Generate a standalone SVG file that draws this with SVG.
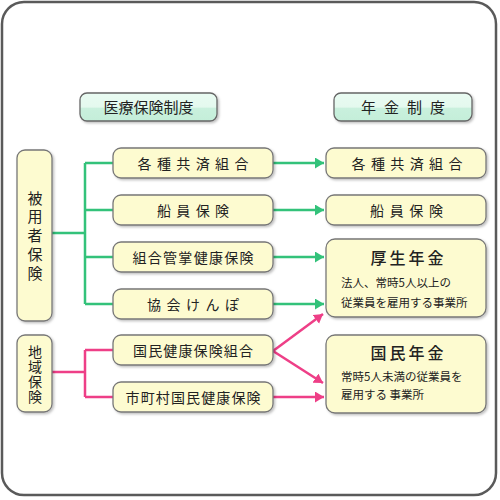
<svg xmlns="http://www.w3.org/2000/svg" width="500" height="500" viewBox="0 0 500 500">
<defs>
<style>
text{font-family:"Noto Sans CJK JP","Noto Sans CJK SC",sans-serif;fill:#222;}
.box{fill:#fdfbd0;stroke:#777;stroke-width:1.3;filter:url(#sh);}
.hdr{fill:url(#hg);stroke:#666;stroke-width:1.3;filter:url(#sh);}
.t{font-size:14px;text-anchor:middle;}
.vt{writing-mode:vertical-rl;text-orientation:upright;text-anchor:middle;}
.ht{font-size:15px;text-anchor:middle;}
.big{font-size:16px;text-anchor:middle;font-weight:500;}
.sub{font-size:11.5px;}
.g{fill:none;stroke:#33c27a;stroke-width:2.5;}
.p{fill:none;stroke:#ee3f87;stroke-width:2.5;}
</style>
<linearGradient id="hg" x1="0" y1="0" x2="0" y2="1">
<stop offset="0" stop-color="#e9fbf2"/>
<stop offset="0.5" stop-color="#e4f9ee"/>
<stop offset="0.55" stop-color="#c9f0dd"/>
<stop offset="1" stop-color="#c4eed9"/>
</linearGradient>
<filter id="sh" x="-10%" y="-20%" width="130%" height="150%">
<feDropShadow dx="1.5" dy="1.5" stdDeviation="1" flood-color="#000" flood-opacity="0.25"/>
</filter>
<marker id="ag" markerUnits="userSpaceOnUse" markerWidth="10" markerHeight="12" refX="9" refY="5.5" orient="auto">
<path d="M0,0 L9,5.5 L0,11 z" fill="#33c27a"/>
</marker>
<marker id="ap" markerUnits="userSpaceOnUse" markerWidth="10" markerHeight="12" refX="9" refY="5.5" orient="auto">
<path d="M0,0 L9,5.5 L0,11 z" fill="#ee3f87"/>
</marker>
</defs>
<rect x="0" y="0" width="500" height="500" fill="#fff"/>
<rect x="2" y="2" width="494" height="493" rx="22" fill="#fff" stroke="#5a5a5a" stroke-width="2.5"/>

<g id="connectors">
<path class="g" d="M52,233 H85 M85,163 V304 M85,163 H113 M85,210 H113 M85,257 H113 M85,304 H113"/>
<path class="g" d="M273,163 H324" marker-end="url(#ag)"/>
<path class="g" d="M273,210 H324" marker-end="url(#ag)"/>
<path class="g" d="M273,257 H324" marker-end="url(#ag)"/>
<path class="g" d="M273,304 H324" marker-end="url(#ag)"/>
<path class="p" d="M52,372 H85 M85,350 V397 M85,350 H113 M85,397 H113"/>
<path class="p" d="M273,351 L323,314" marker-end="url(#ap)"/>
<path class="p" d="M273,351 L323,383" marker-end="url(#ap)"/>
<path class="p" d="M273,397 H324" marker-end="url(#ap)"/>
</g>

<g id="h-iryo"><rect class="hdr" x="80" y="93" width="137" height="28" rx="7"/><text class="ht" x="148.5" y="112.5">医療保険制度</text></g>
<g id="h-nenkin"><rect class="hdr" x="334" y="93" width="138" height="28" rx="7"/><text class="ht" x="403" y="112.5" textLength="84" lengthAdjust="spacing">年金制度</text></g>

<g id="n-hiyosha"><rect class="box" x="17" y="150" width="35" height="171" rx="8"/>
<text class="vt" x="35" y="235.5" font-size="15" textLength="90" lengthAdjust="spacing">被用者保険</text></g>
<g id="n-chiiki"><rect class="box" x="17" y="335" width="35" height="77" rx="8"/>
<text class="vt" x="35" y="374" font-size="14" textLength="59" lengthAdjust="spacing">地域保険</text></g>

<g id="m-kyosai"><rect class="box" x="113" y="148" width="160" height="30" rx="8"/><text class="t" x="193" y="169" textLength="111" lengthAdjust="spacing">各種共済組合</text></g>
<g id="m-senin"><rect class="box" x="113" y="195" width="160" height="30" rx="8"/><text class="t" x="193" y="216" textLength="72" lengthAdjust="spacing">船員保険</text></g>
<g id="m-kumiai"><rect class="box" x="113" y="242" width="160" height="30" rx="8"/><text class="t" x="193" y="263" textLength="121" lengthAdjust="spacing">組合管掌健康保険</text></g>
<g id="m-kyokai"><rect class="box" x="113" y="289" width="160" height="30" rx="8"/><text class="t" x="193" y="310" textLength="92" lengthAdjust="spacing">協会けんぽ</text></g>
<g id="m-kokuho-kumiai"><rect class="box" x="113" y="335" width="160" height="30" rx="8"/><text class="t" x="193" y="356" textLength="120" lengthAdjust="spacing">国民健康保険組合</text></g>
<g id="m-shichoson"><rect class="box" x="113" y="382" width="160" height="30" rx="8"/><text class="t" x="193" y="403" textLength="135" lengthAdjust="spacing">市町村国民健康保険</text></g>

<g id="r-kyosai"><rect class="box" x="326" y="148" width="160" height="30" rx="8"/><text class="t" x="407" y="169" textLength="111" lengthAdjust="spacing">各種共済組合</text></g>
<g id="r-senin"><rect class="box" x="326" y="195" width="160" height="30" rx="8"/><text class="t" x="406.5" y="216" textLength="73" lengthAdjust="spacing">船員保険</text></g>
<g id="r-kosei"><rect class="box" x="326" y="239" width="160" height="78" rx="9"/>
<text class="big" x="407" y="264" textLength="73" lengthAdjust="spacing">厚生年金</text>
<text class="sub" x="341" y="287">法人、常時5人以上の</text>
<text class="sub" x="341" y="307">従業員を雇用する事業所</text></g>
<g id="r-kokumin"><rect class="box" x="326" y="335" width="160" height="78" rx="9"/>
<text class="big" x="407" y="359" textLength="73" lengthAdjust="spacing">国民年金</text>
<text class="sub" x="341" y="381">常時5人未満の従業員を</text>
<text class="sub" x="341" y="399">雇用する 事業所</text></g>
</svg>
